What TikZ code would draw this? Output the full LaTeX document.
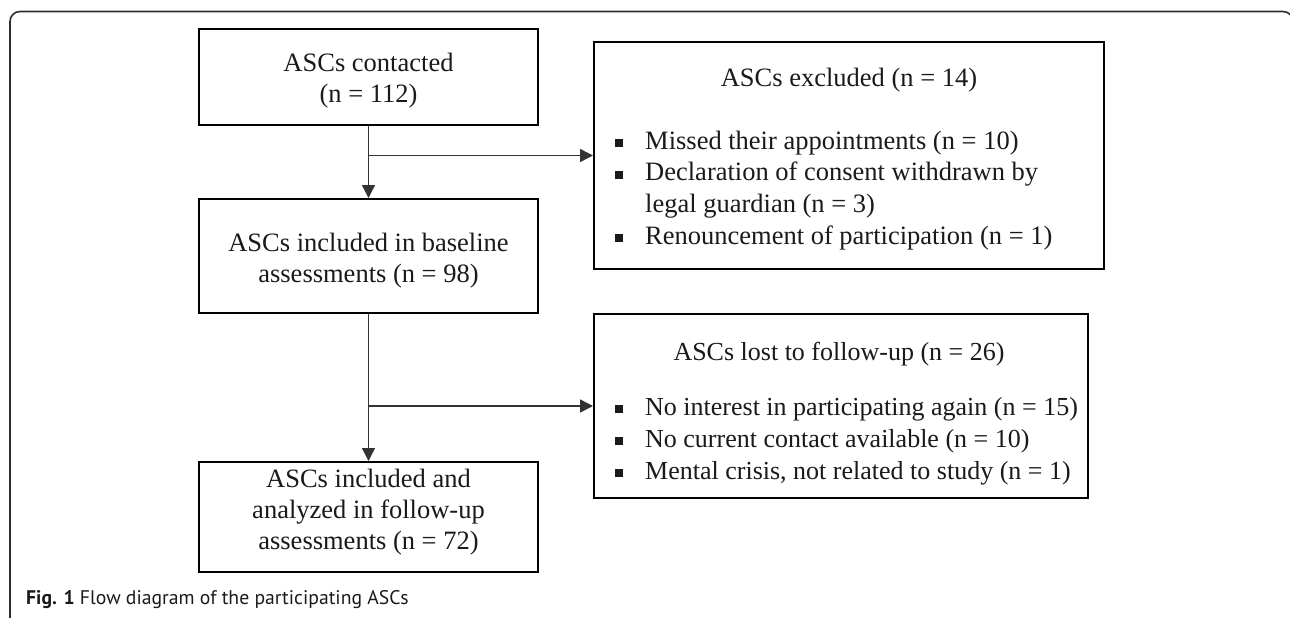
\documentclass[tikz,border=0pt]{standalone}
\usepackage{fontspec}
\setmainfont{Liberation Serif}
\newfontfamily\capfont{PT Sans}
\usetikzlibrary{arrows.meta}
\newcommand\blt{\makebox[30pt][l]{\rule[2.2pt]{8pt}{8pt}}}
\definecolor{framegray}{HTML}{2E2E2E}
\definecolor{conngray}{HTML}{333333}
\definecolor{inkcol}{HTML}{1A1A1A}
\tikzset{
  boxnode/.style={draw=black, line width=2pt, inner sep=0pt, fill=white},
  txt/.style={inner sep=0pt, text=inkcol, font=\fontsize{26.5}{31}\selectfont},
  listtxt/.style={inner sep=0pt, text=inkcol, font=\fontsize{26.5}{31.7}\selectfont, anchor=base west},
  conn/.style={draw=conngray, line width=1.4pt},
  arr/.style={conn, -{Triangle[length=13pt,width=13pt]}},
}
\begin{document}
\begin{tikzpicture}[x=1pt,y=-1pt]
\useasboundingbox (0,0) rectangle (1290,618);
\begin{scope}
\clip (0,0) rectangle (1290,618);
\draw[framegray, line width=1.6pt, rounded corners=10pt] (10,630) -- (10,11.5) -- (1293,11.5) -- (1293,630);
\end{scope}

% boxes
\node[boxnode, minimum width=339pt, minimum height=96pt] (c1) at (368.5,77) {};
\node[boxnode, minimum width=339pt, minimum height=114pt] (c3) at (368.5,256) {};
\node[boxnode, minimum width=339pt, minimum height=110pt] (c5) at (368.5,517) {};
\node[boxnode, minimum width=510pt, minimum height=227pt] (exc) at (849,155.5) {};
\node[boxnode, minimum width=494pt, minimum height=184pt] (lost) at (841,406) {};

% texts
\node[txt, anchor=base] (c1t) at (368.5,71) {\begin{tabular}[t]{@{}c@{}}ASCs contacted\\(n = 112)\end{tabular}};
\node[txt, anchor=base] (c3t) at (368.5,251) {\begin{tabular}[t]{@{}c@{}}ASCs included in baseline\\assessments (n = 98)\end{tabular}};
\node[txt, anchor=base] (c5t) at (368.5,487) {\begin{tabular}[t]{@{}c@{}}ASCs included and\\analyzed in follow-up\\assessments (n = 72)\end{tabular}};
\node[txt, anchor=base] (exct) at (849,86) {ASCs excluded (n = 14)};
\node[listtxt] (excl) at (615,149) {\begin{tabular}[t]{@{}l@{}l@{}}\blt & Missed their appointments (n = 10)\\
\blt & Declaration of consent withdrawn by\\
 & legal guardian (n = 3)\\
\blt & Renouncement of participation (n = 1)\end{tabular}};
\node[txt, anchor=base, font=\fontsize{26}{31}\selectfont] (lostt) at (839,360) {ASCs lost to follow-up (n = 26)};
\node[listtxt, font=\fontsize{26}{32}\selectfont] (lostl) at (615,415) {\begin{tabular}[t]{@{}l@{}l@{}}\blt & No interest in participating again (n = 15)\\
\blt & No current contact available (n = 10)\\
\blt & Mental crisis, not related to study (n = 1)\end{tabular}};

% connectors
\draw[arr] (c1.south) -- (c3.north);
\coordinate (b1) at (c1.south |- exc.west);
\draw[arr] (b1) -- (exc.west);
\draw[arr] (c3.south) -- (c5.north);
\coordinate (b2) at (c3.south |- lost.west);
\draw[arr] (b2) -- (lost.west);

% caption
\node[inner sep=0pt, anchor=base west, text=inkcol] (cap) at (26,604) {\capfont\fontsize{19.7}{24}\selectfont\textbf{Fig. 1} Flow diagram of the participating ASCs};
\end{tikzpicture}
\end{document}
